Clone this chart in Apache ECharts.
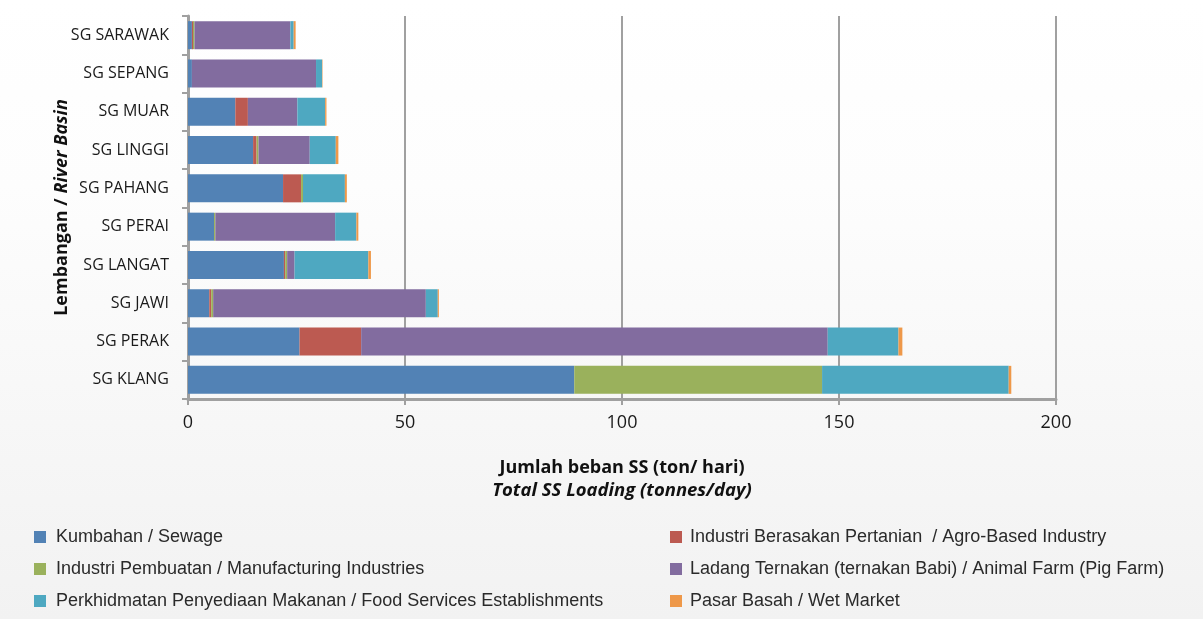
<!DOCTYPE html>
<html>
<head>
<meta charset="utf-8">
<title>Jumlah beban SS mengikut lembangan</title>
<script src="https://cdn.jsdelivr.net/npm/echarts@6/dist/echarts.min.js"></script>
<style>
  html, body { margin: 0; padding: 0; background: #fafafa; }
  #chart { width: 1203px; height: 619px; }
</style>
</head>
<body>
<div id="chart"></div>
<script>
// River basins, bottom to top on the category axis
const basins = ['SG KLANG', 'SG PERAK', 'SG JAWI', 'SG LANGAT', 'SG PERAI',
                'SG PAHANG', 'SG LINGGI', 'SG MUAR', 'SG SEPANG', 'SG SARAWAK'];

// SS loading by source (tonnes/day), same order as basins
const sewage        = [89.0, 25.7, 4.9, 22.1, 6.0, 21.9, 15.0, 10.9, 0.9, 0.9];
const agroBased     = [0,    14.2, 0.45, 0.3, 0,   4.15, 0.8, 2.9, 0,   0.25];
const manufacturing = [57.1, 0,    0.45, 0.45, 0.3, 0.45, 0.45, 0,  0,   0.35];
const animalFarm    = [0,    107.5, 49.0, 1.7, 27.6, 0,   11.8, 11.4, 28.6, 22.1];
const foodServices  = [43.0, 16.3, 2.75, 17.0, 4.9, 9.65, 6.0, 6.4, 1.4, 0.75];
const wetMarket     = [0.6,  0.9,  0.25, 0.6, 0.45, 0.45, 0.6, 0.3, 0.1, 0.45];

const xTicks = [0, 50, 100, 150, 200];

const seriesNames = [
  'Kumbahan / Sewage',
  'Industri Berasakan Pertanian  / Agro-Based Industry',
  'Industri Pembuatan / Manufacturing Industries',
  'Ladang Ternakan (ternakan Babi) / Animal Farm (Pig Farm)',
  'Perkhidmatan Penyediaan Makanan / Food Services Establishments',
  'Pasar Basah / Wet Market'
];
const seriesData = [sewage, agroBased, manufacturing, animalFarm, foodServices, wetMarket];
const colors = ['#5282B5', '#BC5A51', '#9AB15C', '#826C9F', '#4EA8C1', '#EE9849'];

// Legend: two columns of three entries
const legendCols = [34, 670];
const legendTextPad = [5, 3];
const legendRows = [528, 560, 592];
const legendSlots = [[0, 0], [1, 0], [0, 1], [1, 1], [0, 2], [1, 2]];

const chart = echarts.init(document.getElementById('chart'));

chart.setOption({
  backgroundColor: {
    type: 'linear', x: 0, y: 0, x2: 0, y2: 1,
    colorStops: [
      { offset: 0, color: '#ffffff' },
      { offset: 0.3, color: '#fdfdfd' },
      { offset: 1, color: '#f2f2f2' }
    ]
  },
  animation: false,
  color: colors,
  grid: { left: 188, right: 147, top: 16, bottom: 220, containLabel: false },
  legend: seriesNames.map((name, i) => ({
    data: [name],
    left: legendCols[legendSlots[i][0]],
    top: legendRows[legendSlots[i][1]],
    padding: 0,
    icon: 'rect', itemWidth: 12, itemHeight: 12, itemGap: 0,
    textStyle: {
      fontFamily: 'Liberation Sans', fontSize: 18, color: '#2a2a2a',
      padding: [0, 0, 0, legendTextPad[legendSlots[i][0]]]
    },
    selectedMode: false
  })),
  xAxis: {
    type: 'value',
    min: xTicks[0], max: xTicks[xTicks.length - 1], interval: xTicks[1] - xTicks[0],
    axisLine: { show: true, lineStyle: { color: '#a0a0a0', width: 3 } },
    axisTick: { show: true, length: 6, lineStyle: { color: '#a0a0a0', width: 2 } },
    splitLine: { show: true, lineStyle: { color: '#a0a0a0', width: 2 } },
    axisLabel: { fontFamily: 'Open Sans', fontSize: 18, color: '#1a1a1a', margin: 15 },
    name: '{a|Jumlah beban SS (ton/ hari)}\n{b|Total SS Loading (tonnes/day)}',
    nameLocation: 'middle', nameGap: 57,
    nameMoveOverlap: false,
    nameTextStyle: {
      rich: {
        a: { fontFamily: 'Open Sans', fontWeight: 'bold', fontSize: 18, color: '#111', lineHeight: 23 },
        b: { fontFamily: 'Open Sans', fontWeight: 'bold', fontStyle: 'italic', fontSize: 18.5, color: '#111', lineHeight: 23 }
      }
    }
  },
  yAxis: {
    type: 'category',
    data: basins,
    axisLine: { show: true, lineStyle: { color: '#a0a0a0', width: 3 } },
    axisTick: { show: true, length: 6, lineStyle: { color: '#a0a0a0', width: 2 } },
    axisLabel: { fontFamily: 'Open Sans', fontSize: 16, color: '#1a1a1a', margin: 19 },
    name: '{a|Lembangan / }{b|River Basin}',
    nameLocation: 'middle', nameRotate: 90, nameGap: 117,
    nameMoveOverlap: false,
    nameTextStyle: {
      rich: {
        a: { fontFamily: 'Open Sans', fontWeight: 'bold', fontSize: 18, color: '#111' },
        b: { fontFamily: 'Open Sans', fontWeight: 'bold', fontStyle: 'italic', fontSize: 18, color: '#111' }
      }
    }
  },
  series: seriesNames.map((name, i) => ({
    name: name,
    type: 'bar',
    stack: 'ss',
    barWidth: 28,
    data: seriesData[i],
    itemStyle: { color: colors[i] }
  }))
});
</script>
</body>
</html>
